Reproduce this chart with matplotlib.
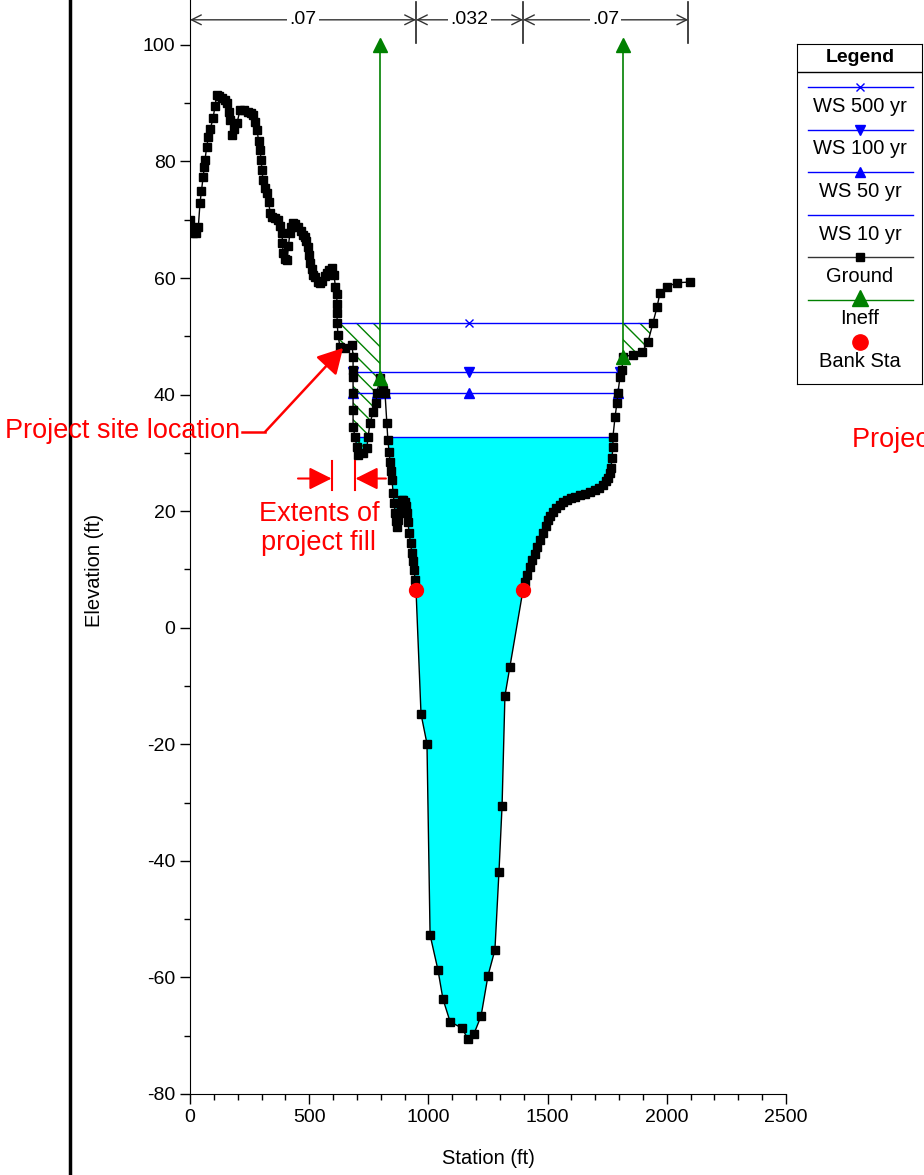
import matplotlib.pyplot as plt
from matplotlib.lines import Line2D
import numpy as np

plt.rcParams['font.family'] = ['Liberation Sans', 'DejaVu Sans']
plt.rcParams['axes.unicode_minus'] = False
plt.rcParams['hatch.color'] = '#008000'
plt.rcParams['hatch.linewidth'] = 1.0

# ground profile (station ft, elevation ft)
ground_sta = [0, 5, 14, 25, 35, 42, 48, 55, 60, 63, 70, 77, 85, 97, 105, 112, 122, 133, 145, 154,
              162, 168, 176, 185, 197, 210, 225, 243, 255, 264, 272, 281, 288, 294, 298, 302, 306,
              315, 323, 330, 336, 345, 355, 369, 378, 386, 388, 390, 398, 407, 413, 419, 425, 432,
              440, 453, 465, 475, 482, 488, 495, 500, 503, 510, 518, 524, 535, 545, 555, 565, 575,
              585, 596, 604, 610, 615, 617, 617, 617, 621, 629, 650, 680, 684, 684, 684, 684, 684,
              684, 692, 700, 705, 726, 742, 747, 755, 768, 780, 784, 797, 810, 818, 826, 830, 835,
              839, 843, 847, 852, 856, 860, 864, 868, 872, 877, 883, 889, 895, 902, 906, 910, 914,
              919, 925, 931, 935, 940, 944, 948, 969, 994, 1007, 1040, 1061, 1091, 1141, 1166,
              1191, 1221, 1250, 1279, 1296, 1309, 1321, 1342, 1397, 1405, 1414, 1426, 1435, 1447,
              1456, 1468, 1481, 1492, 1502, 1512, 1523, 1537, 1552, 1565, 1581, 1597, 1615, 1636,
              1657, 1678, 1699, 1716, 1732, 1745, 1753, 1760, 1766, 1770, 1774, 1774, 1783, 1791,
              1795, 1804, 1812, 1816, 1858, 1896, 1921, 1942, 1959, 1971, 2001, 2043, 2097]
ground_el = [70.0, 68.5, 67.7, 67.8, 68.8, 72.9, 75.0, 77.3, 79.0, 80.3, 82.5, 84.2, 85.5, 87.5,
             89.5, 91.4, 91.2, 90.9, 90.5, 90.0, 88.5, 87.1, 84.6, 85.5, 86.6, 88.8, 88.8, 88.5,
             88.3, 88.0, 86.8, 85.4, 83.5, 82.0, 80.3, 78.6, 76.8, 75.5, 74.6, 73.0, 71.2, 70.5,
             70.3, 70.0, 69.0, 67.7, 66.0, 64.3, 63.3, 63.1, 65.5, 67.7, 68.8, 69.5, 69.2, 68.8,
             68.0, 67.4, 67.1, 66.3, 65.3, 64.0, 62.6, 61.5, 60.6, 60.2, 59.4, 59.2, 59.5, 60.3,
             60.9, 61.3, 61.7, 60.5, 58.5, 57.2, 55.5, 54.0, 52.3, 50.2, 48.2, 48.0, 48.5, 46.5,
             44.2, 43.0, 40.3, 37.4, 34.5, 32.7, 31.0, 29.6, 30.0, 30.9, 32.7, 35.1, 37.0, 38.6,
             40.3, 42.9, 40.8, 40.3, 35.1, 32.2, 30.2, 28.4, 26.9, 25.4, 23.1, 21.4, 19.7, 18.3,
             17.3, 18.5, 19.7, 21.0, 21.9, 21.9, 21.6, 20.8, 19.7, 18.2, 16.3, 14.5, 12.8, 11.4,
             9.9, 8.2, 6.5, -14.8, -19.9, -52.7, -58.7, -63.7, -67.6, -68.7, -70.6, -69.7, -66.6,
             -59.7, -55.3, -41.9, -30.6, -11.7, -6.7, 6.5, 7.9, 9.1, 10.4, 11.6, 12.6, 13.9, 15.0,
             16.3, 17.5, 18.5, 19.2, 19.9, 20.6, 21.1, 21.5, 21.9, 22.2, 22.4, 22.7, 23.0, 23.3,
             23.6, 24.0, 24.5, 25.1, 25.7, 26.5, 27.4, 29.1, 31.0, 32.7, 36.2, 38.6, 40.3, 43.1,
             44.2, 46.5, 46.8, 47.3, 49.0, 52.3, 55.0, 57.4, 58.5, 59.2, 59.3]

# water surfaces
ws500_sta = [617, 1170, 1942]
ws500_el = 52.3
ws100_sta = [684, 1170, 1804]
ws100_el = 43.9
ws50_left = [684, 784]
ws50_main = [818, 1170, 1795]
ws50_el = 40.3
ws10_left = [692, 747]
ws10_main = [829, 1774]
ws10_el = 32.7

# ineffective flow areas (station, ground elev, top elev)
ineff_sta = [797, 1816]
ineff_low = [42.9, 46.5]
ineff_top = 100.0

# bank stations
bank_sta = [948, 1397]
bank_el = [6.5, 6.5]

# Manning's n
n_sta = [0, 948, 1397, 2090]
n_vals = ['.07', '.032', '.07']

st = np.array(ground_sta, dtype=float)
g = np.array(ground_el, dtype=float)

fig = plt.figure(figsize=(9.24, 11.75), dpi=100)
ax = fig.add_axes([190 / 924, 1 - 1094 / 1175, 596 / 924, 1094 / 1175])
ax.set_xlim(0, 2500)
ax.set_ylim(-80, 107.7)

# water fill (10 yr)
ax.fill_between(st, g, ws10_el, where=g <= ws10_el, interpolate=True,
                color='#00ffff', linewidth=0, zorder=1)

# ineffective hatch
for lo, hi in [(617, ineff_sta[0]), (ineff_sta[1], 1942)]:
    m = (st >= lo) & (st <= hi) & (g <= ws500_el)
    ax.fill_between(st, g, ws500_el, where=m, facecolor='none', edgecolor='#008000',
                    hatch='\\\\', linewidth=0, zorder=2)

blue = '#0000ff'
ax.plot(ws500_sta, [ws500_el] * 3, color=blue, lw=1, marker='x', ms=6, zorder=3)
ax.plot(ws100_sta, [ws100_el] * 3, color=blue, lw=1, marker='v', ms=6.5, zorder=3)
ax.plot(ws50_left, [ws50_el] * 2, color=blue, lw=1, marker='^', ms=6.5, zorder=3)
ax.plot(ws50_main, [ws50_el] * 3, color=blue, lw=1, marker='^', ms=6.5, zorder=3)
ax.plot(ws10_left, [ws10_el] * 2, color=blue, lw=1, zorder=3)
ax.plot(ws10_main, [ws10_el] * 2, color=blue, lw=1, zorder=3)

ax.plot(st, g, color='black', lw=1, marker='s', ms=6.3, zorder=5)

for s, lo in zip(ineff_sta, ineff_low):
    ax.plot([s, s], [lo, ineff_top], color='#008000', lw=1.2, marker='^', ms=10, zorder=6)

ax.plot(bank_sta, bank_el, 'o', color='red', ms=10, zorder=7)

# Manning's n bar
ny = 104.3
for s in n_sta[1:]:
    ax.plot([s, s], [100.3, 107.4], color='#222222', lw=1.2, clip_on=False)
for i, lab in enumerate(n_vals):
    ax.annotate('', xy=(n_sta[i + 1], ny), xytext=(n_sta[i], ny),
                arrowprops=dict(arrowstyle='<->,head_length=0.7,head_width=0.35', color='#333333',
                                lw=1, shrinkA=0, shrinkB=0, mutation_scale=10))
    ax.text((n_sta[i] + n_sta[i + 1]) / 2, ny, lab, ha='center', va='center', fontsize=14,
            bbox=dict(facecolor='white', edgecolor='none', pad=1.5))

ax.spines['top'].set_visible(False)
ax.spines['right'].set_visible(False)
ax.set_xticks(np.arange(0, 2501, 500))
ax.set_xticks(np.arange(0, 2501, 100), minor=True)
ax.set_yticks(np.arange(-80, 101, 20))
ax.set_yticks(np.arange(-80, 101, 10), minor=True)
ax.tick_params(which='major', direction='out', length=7, width=1, labelsize=14)
ax.tick_params(which='minor', direction='out', length=4, width=1)

fig.text(95 / 924, 1 - 570 / 1175, 'Elevation (ft)', rotation=90, ha='center', va='center',
         fontsize=14.5)
fig.text(488 / 924, 1 - 1158 / 1175, 'Station (ft)', ha='center', va='center', fontsize=14.5)

# annotations
red = '#ff0000'
fig.text(240 / 924, 1 - 431 / 1175, 'Project site location', ha='right', va='center',
         color=red, fontsize=19.5)
ax.plot([218, 315], [33.6, 33.6], color=red, lw=1.8, clip_on=False, zorder=8)
ax.annotate('', xy=(642, 48.0), xytext=(315, 33.6),
            arrowprops=dict(arrowstyle='-|>,head_length=0.45,head_width=0.25', color=red, lw=1.8,
                            shrinkA=0, shrinkB=0, mutation_scale=34), zorder=8)
ax.text(541, 17.1, 'Extents of\nproject fill', ha='center', va='center', color=red,
        fontsize=19.5, linespacing=1.15)
for s in [596, 692]:
    ax.plot([s, s], [28.6, 23.6], color=red, lw=1.5, zorder=8)
ax.annotate('', xy=(594, 25.6), xytext=(453, 25.6),
            arrowprops=dict(arrowstyle='-|>,head_length=0.4,head_width=0.2', color=red, lw=1.5,
                            shrinkA=0, shrinkB=0, mutation_scale=34), zorder=8)
ax.annotate('', xy=(694, 25.6), xytext=(822, 25.6),
            arrowprops=dict(arrowstyle='-|>,head_length=0.4,head_width=0.2', color=red, lw=1.5,
                            shrinkA=0, shrinkB=0, mutation_scale=34), zorder=8)
# second copy of the label, cut off by the right edge as in the source image
fig.text(852 / 924, 1 - 440 / 1175, 'Project site location', ha='left', va='center',
         color=red, fontsize=19.5)

fig.add_artist(Line2D([70 / 924, 70 / 924], [0, 1], color='black', lw=2.5))

# legend box
lax = fig.add_axes([797 / 924, 1 - 384 / 1175, 125 / 924, 340 / 1175])
lax.set_xlim(797, 922)
lax.set_ylim(384, 44)
lax.set_xticks([])
lax.set_yticks([])
lax.plot([797, 922], [72, 72], color='black', lw=1)
lax.text(860, 57, 'Legend', ha='center', va='center', fontsize=14, fontweight='bold')
leg_labels = ['WS 500 yr', 'WS 100 yr', 'WS 50 yr', 'WS 10 yr', 'Ground', 'Ineff', 'Bank Sta']
leg_style = [(blue, 'x', 6, True), (blue, 'v', 6.5, True), (blue, '^', 6.5, True),
             (blue, None, 0, True), ('#333333', 's', 5.5, True), ('#008000', '^', 11, True),
             (red, 'o', 11, False)]
for i, (lab, (c, mk, ms, ln)) in enumerate(zip(leg_labels, leg_style)):
    yl = 87 + i * 42.5
    if ln:
        lax.plot([808, 913], [yl, yl], color=c, lw=1)
    if mk:
        lax.plot([860], [yl - (2 if mk == '^' and ms > 10 else 0)], marker=mk, color=c, ms=ms,
                 mfc=c if mk != 's' else 'black', mec=c if mk != 's' else 'black')
    lax.text(860, yl + 19.5, lab, ha='center', va='center', fontsize=14.5)

plt.savefig('out.png', dpi=100)
